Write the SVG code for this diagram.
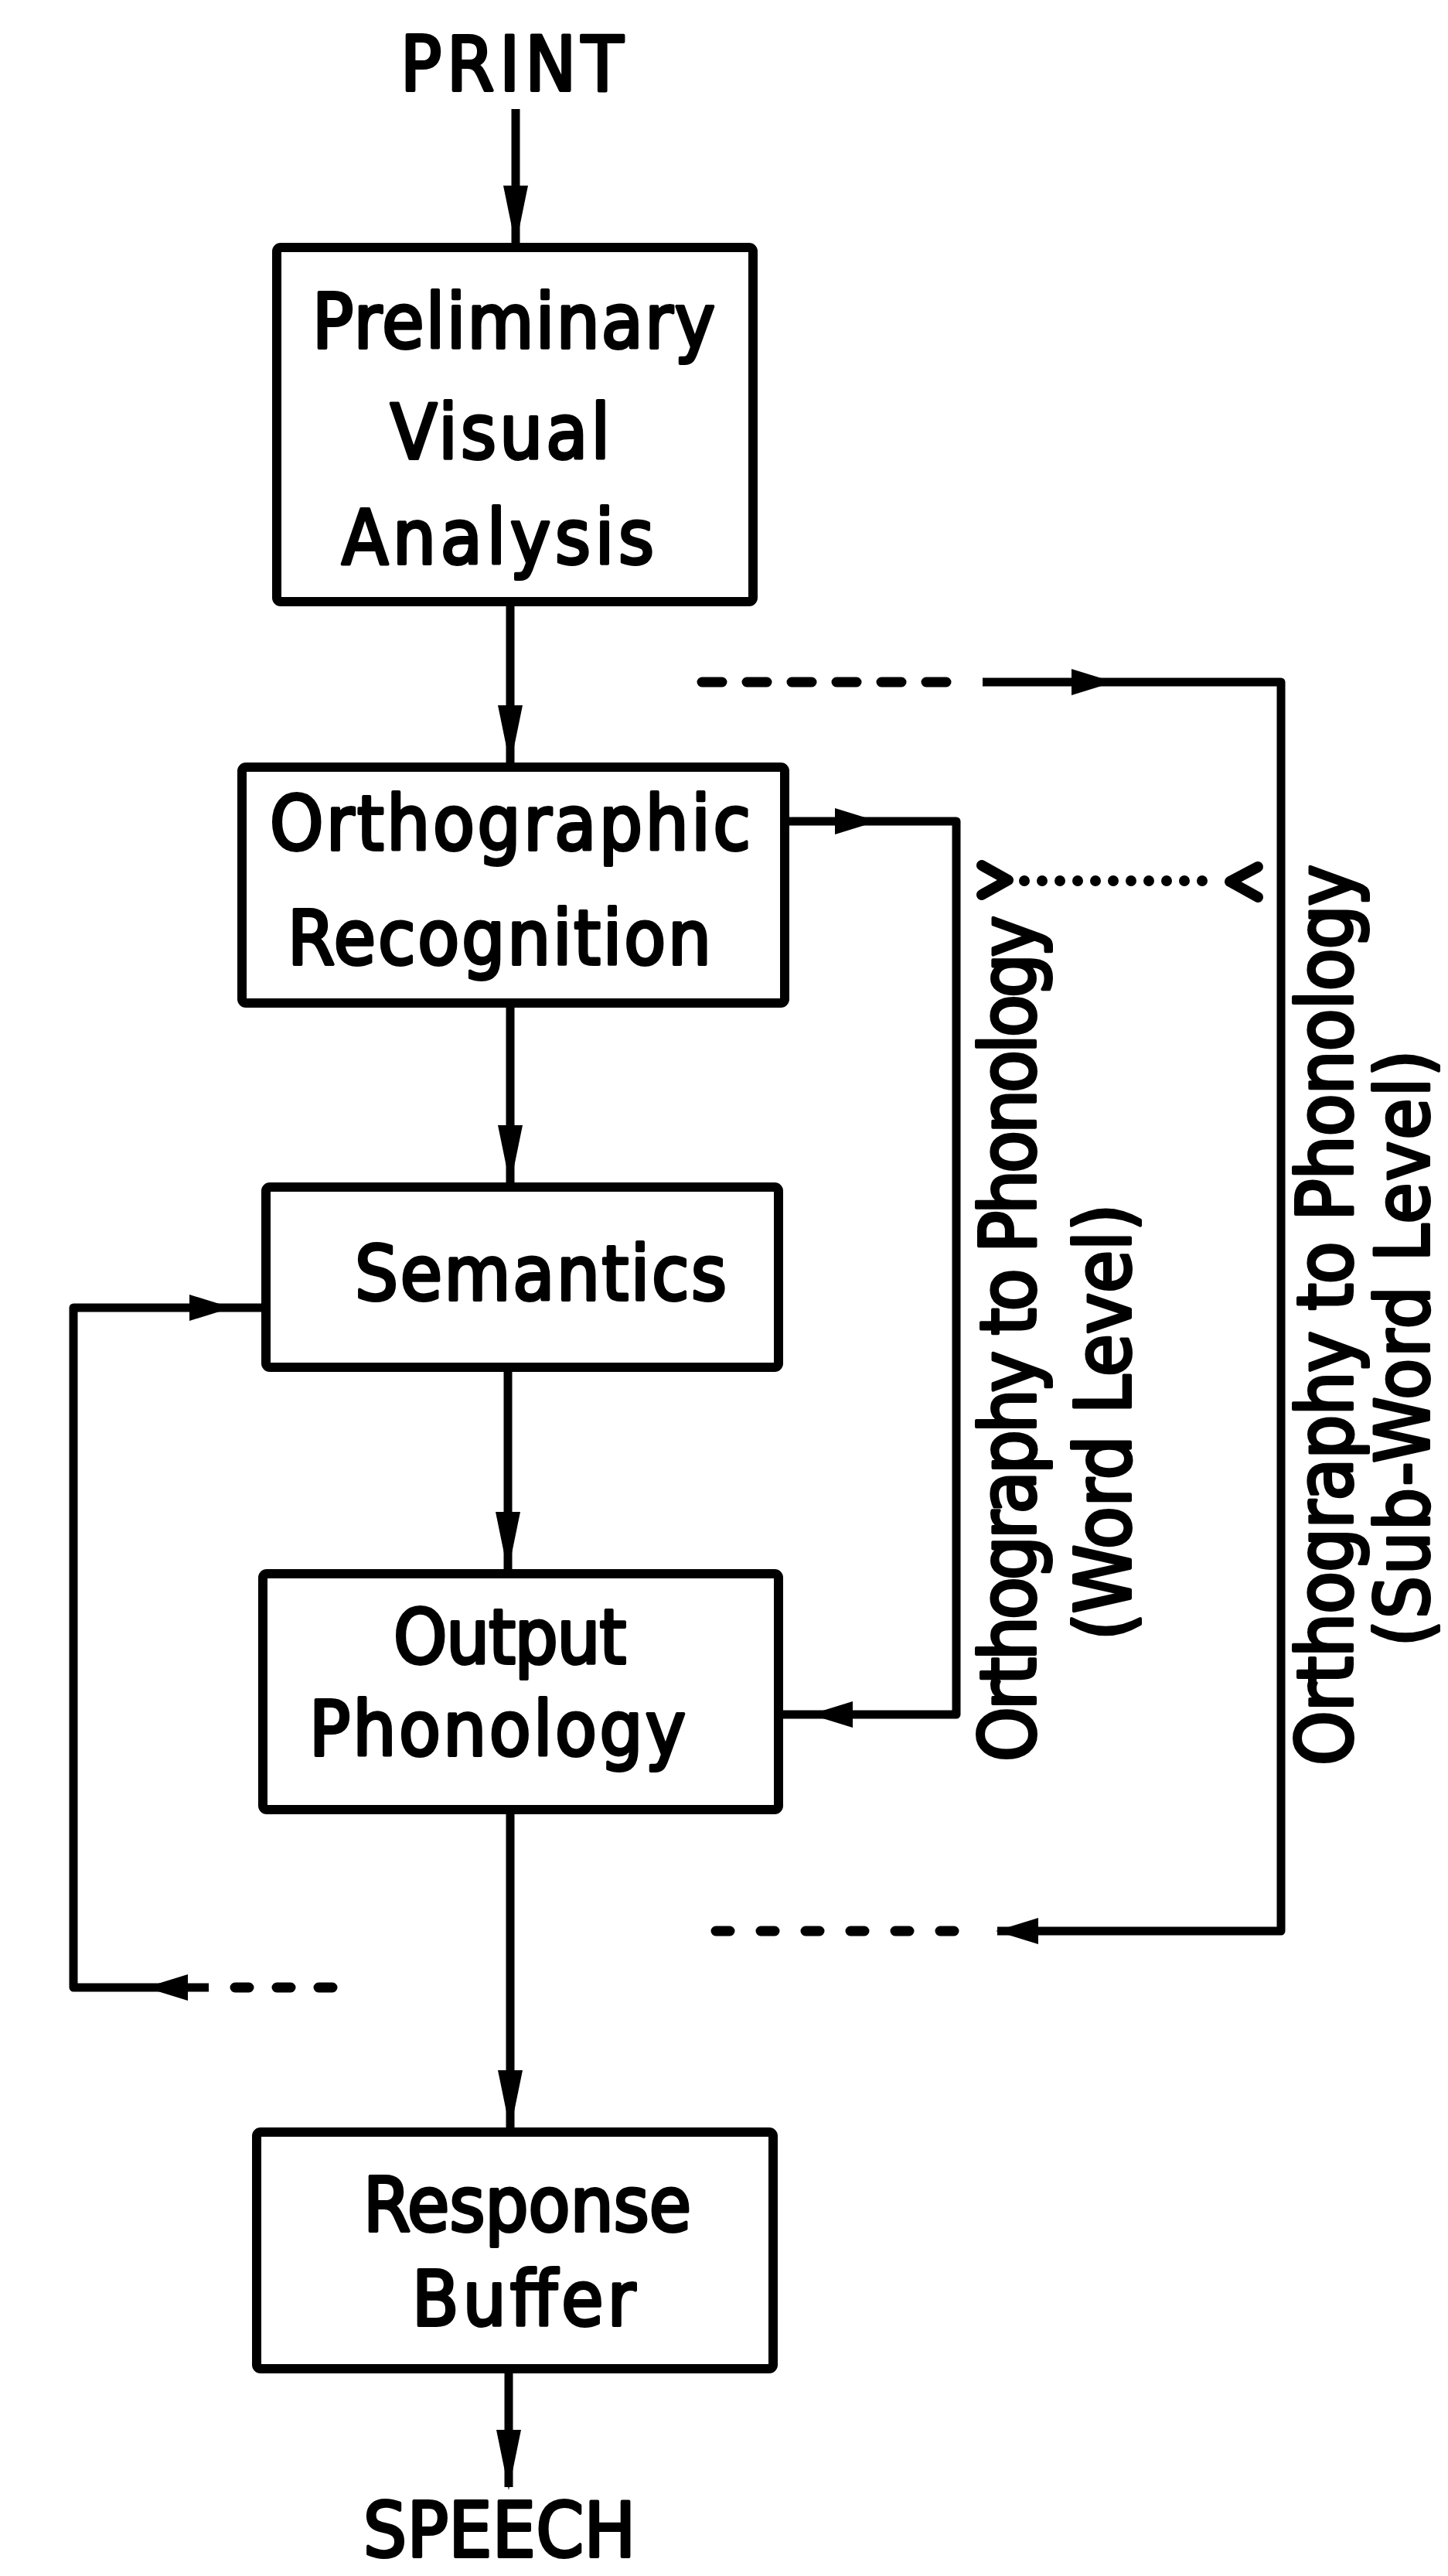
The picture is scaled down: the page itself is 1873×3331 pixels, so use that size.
<svg xmlns="http://www.w3.org/2000/svg" xmlns:xlink="http://www.w3.org/1999/xlink" width="1873" height="3331" viewBox="0 0 1873 3331">
<style>
.bg{fill:#fff}
.box{fill:#fff;stroke:#000;stroke-width:12;stroke-linejoin:round}
.ln{fill:none;stroke:#000;stroke-width:11;stroke-linejoin:round}
.dash{fill:none;stroke:#000;stroke-width:13;stroke-linecap:round}
.dot{fill:none;stroke:#000;stroke-width:14;stroke-linecap:round;stroke-dasharray:0 23}
.chev{fill:none;stroke:#000;stroke-width:14;stroke-linecap:round;stroke-linejoin:round}
.t{font-family:'Liberation Sans Narrow','DejaVu Sans Condensed','Liberation Sans',sans-serif;font-size:98px;fill:#000;stroke:#000;stroke-width:4;stroke-linejoin:round}
.v{font-size:100px}
</style>
<defs>
<path id="ahV" d="M0,0 L-16,-78 L16,-78 Z" fill="#000"/>
<path id="ahH" d="M0,0 L-55,-17 L-55,17 Z" fill="#000"/>
</defs>
<rect class="bg" x="0" y="0" width="1873" height="3331"/>

<g id="connectors">
<!-- main vertical flow -->
<line class="ln" x1="667" y1="141" x2="667" y2="316"/>
<use xlink:href="#ahV" transform="translate(667,318)"/>
<line class="ln" x1="660" y1="783" x2="660" y2="988"/>
<use xlink:href="#ahV" transform="translate(660,990)"/>
<line class="ln" x1="660" y1="1302" x2="660" y2="1531"/>
<use xlink:href="#ahV" transform="translate(660,1533)"/>
<line class="ln" x1="657" y1="1773" x2="657" y2="2031"/>
<use xlink:href="#ahV" transform="translate(657,2033)"/>
<line class="ln" x1="660" y1="2345" x2="660" y2="2753"/>
<use xlink:href="#ahV" transform="translate(660,2755)"/>
<line class="ln" x1="658" y1="3068" x2="658" y2="3216"/>
<use xlink:href="#ahV" transform="translate(658,3220)"/>

<!-- word level route -->
<path class="ln" d="M1020,1062 H1237 V2217 H1012"/>
<use xlink:href="#ahH" transform="translate(1135,1062)"/>
<use xlink:href="#ahH" transform="translate(1048,2217) rotate(180)"/>

<!-- sub-word level route -->
<path class="dash" d="M908,882 H1232" stroke-dasharray="26 32"/>
<path class="ln" d="M1271,882 H1657 V2497 H1290"/>
<use xlink:href="#ahH" transform="translate(1441,882)"/>
<path class="dash" d="M926,2497 H1262" stroke-dasharray="18 40"/>
<use xlink:href="#ahH" transform="translate(1288,2497) rotate(180)"/>

<!-- dotted link between routes -->
<path class="dot" d="M1325,1139 H1576"/>
<polyline class="chev" points="1270,1119 1304,1138 1270,1157"/>
<polyline class="chev" points="1627,1121 1591,1140 1627,1160"/>

<!-- semantic feedback loop -->
<path class="ln" d="M270,2570 H95 V1691 H340"/>
<use xlink:href="#ahH" transform="translate(300,1691)"/>
<use xlink:href="#ahH" transform="translate(188,2570) rotate(180)"/>
<path class="dash" d="M304,2570 H436" stroke-dasharray="18 36"/>
</g>

<g id="print"><text class="t" x="518" y="117" textLength="288" lengthAdjust="spacing">PRINT</text></g>

<g id="preliminary">
<rect class="box" x="358" y="320" width="616" height="458" rx="5"/>
<text class="t" x="404" y="450" textLength="521" lengthAdjust="spacing">Preliminary</text>
<text class="t" x="505" y="593" textLength="284" lengthAdjust="spacing">Visual</text>
<text class="t" x="442" y="729" textLength="404" lengthAdjust="spacing">Analysis</text>
</g>

<g id="orthographic">
<rect class="box" x="313" y="992" width="702" height="305" rx="5"/>
<text class="t" x="349" y="1099" textLength="622" lengthAdjust="spacing">Orthographic</text>
<text class="t" x="372" y="1247" textLength="548" lengthAdjust="spacing">Recognition</text>
</g>

<g id="semantics">
<rect class="box" x="344" y="1535" width="663" height="233" rx="5"/>
<text class="t" x="459" y="1681" textLength="481" lengthAdjust="spacing">Semantics</text>
</g>

<g id="output">
<rect class="box" x="340" y="2035" width="667" height="305" rx="5"/>
<text class="t" x="509" y="2151" textLength="301" lengthAdjust="spacing">Output</text>
<text class="t" x="400" y="2270" textLength="487" lengthAdjust="spacing">Phonology</text>
</g>

<g id="response">
<rect class="box" x="332" y="2757" width="668" height="306" rx="5"/>
<text class="t" x="470" y="2885" textLength="424" lengthAdjust="spacing">Response</text>
<text class="t" x="533" y="3007" textLength="289" lengthAdjust="spacing">Buffer</text>
</g>

<g id="speech"><text class="t" x="470" y="3306" font-size="94" textLength="352" lengthAdjust="spacing">SPEECH</text></g>

<g id="word-label">
<text class="t v" transform="translate(1339,2278) rotate(-90)" textLength="1094" lengthAdjust="spacing">Orthography to Phonology</text>
<text class="t v" transform="translate(1462,2121) rotate(-90)" textLength="564" lengthAdjust="spacing">(Word Level)</text>
</g>

<g id="subword-label">
<text class="t v" transform="translate(1749,2283) rotate(-90)" textLength="1165" lengthAdjust="spacing">Orthography to Phonology</text>
<text class="t v" transform="translate(1848,2129) rotate(-90)" style="font-size:96px" textLength="771" lengthAdjust="spacing">(Sub-Word Level)</text>
</g>
</svg>
